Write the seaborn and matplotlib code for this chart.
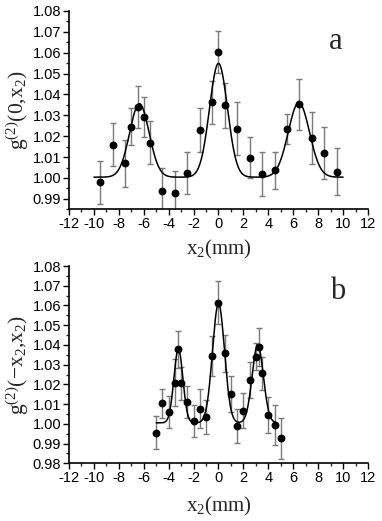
import numpy as np
import pandas as pd
import matplotlib
matplotlib.use("Agg")
import matplotlib.pyplot as plt
import seaborn as sns
from matplotlib.ticker import MultipleLocator, FormatStrFormatter

# ---- panel a data ----
xa = [-9.5, -8.5, -7.5, -7.0, -6.5, -6.0, -5.5, -4.5, -3.5, -2.5, -1.5, -0.5,
      0.0, 0.5, 1.5, 2.5, 3.5, 4.5, 5.5, 6.5, 7.5, 8.5, 9.5]
ya = [0.998, 1.016, 1.007, 1.0245, 1.034, 1.029, 1.017, 0.9936, 0.9928, 1.0024,
      1.0229, 1.0362, 1.0604, 1.0348, 1.0237, 1.0097, 1.0021, 1.0036, 1.0234,
      1.0353, 1.0192, 1.0119, 1.0031]
ea = [0.0103, 0.0104, 0.0114, 0.0089, 0.0099, 0.0096, 0.0102, 0.011, 0.0105,
      0.0102, 0.0105, 0.0102, 0.0102, 0.0107, 0.0126, 0.0098, 0.0105, 0.0089,
      0.0072, 0.0122, 0.0123, 0.0125, 0.0114]
# fitted Gaussian curve (panel a): baseline, centers, amplitudes, widths
fit_a_base = 1.0004
fit_a_centers = [-6.35, 0.0, 6.45]
fit_a_amps = [0.0352, 0.0545, 0.0357]
fit_a_sigmas = [0.78, 0.72, 0.85]
fit_a_range = [-10.0, 10.0]

# ---- panel b data ----
xb = [-5.0, -4.5, -4.0, -3.5, -3.25, -3.0, -2.5, -2.0, -1.5, -1.0, -0.5, 0.0,
      0.5, 1.0, 1.5, 2.0, 2.5, 3.0, 3.25, 3.5, 4.0, 4.5, 5.0]
yb = [0.9954, 1.0104, 1.0062, 1.0209, 1.0378, 1.0205, 1.0111, 1.0015, 1.0077,
      1.0035, 1.0344, 1.0614, 1.0357, 1.0151, 0.999, 1.0067, 1.0222, 1.034,
      1.0391, 1.0256, 1.0043, 0.9994, 0.9928]
eb = [0.0084, 0.0073, 0.0081, 0.012, 0.0094, 0.0085, 0.008, 0.0083, 0.0099,
      0.0084, 0.0103, 0.011, 0.0095, 0.0089, 0.0087, 0.0089, 0.0093, 0.0069,
      0.0097, 0.0084, 0.0091, 0.010, 0.0104]
fit_b_base = 1.0005
fit_b_centers = [-3.22, 0.0, 3.15]
fit_b_amps = [0.0375, 0.0605, 0.0395]
fit_b_sigmas = [0.36, 0.48, 0.45]
fit_b_range = [-5.0, 4.6]

xticks = list(range(-12, 13, 2))

sns.set_style("ticks")
plt.rcParams["font.family"] = ["Liberation Sans", "DejaVu Sans"]
plt.rcParams["axes.unicode_minus"] = False
plt.rcParams["mathtext.fontset"] = "custom"
plt.rcParams["mathtext.rm"] = "Liberation Serif"
plt.rcParams["mathtext.it"] = "Liberation Serif:italic"

fig = plt.figure(figsize=(3.82, 5.21), dpi=100)
W, H = 382.0, 521.0
axA = fig.add_axes([69 / W, (H - 209.3) / H, 299 / W, 198.3 / H])
axB = fig.add_axes([69 / W, (H - 463.3) / H, 299 / W, 197.3 / H])


def fit_curve(base, centers, amps, sigmas, rng):
    xs = np.linspace(rng[0], rng[1], 400)
    ys = np.full_like(xs, base)
    for c, a, s in zip(centers, amps, sigmas):
        ys = ys + a * np.exp(-(xs - c) ** 2 / (2 * s ** 2))
    return pd.DataFrame({"x": xs, "y": ys})


def draw(ax, x, y, e, fit, ylim, yticks, ylabel, letter, lpos, xpad):
    df = pd.DataFrame({"x": x, "y": y, "e": e})
    eb_ = ax.errorbar(df["x"], df["y"], yerr=df["e"], fmt="none",
                      ecolor="#7a7a7a", elinewidth=1.0, capsize=2.0,
                      capthick=1.0, zorder=2)
    for cl in eb_[1]:
        cl.set_color("#333333")
    sns.lineplot(data=fit, x="x", y="y", ax=ax, color="black", lw=1.1,
                 zorder=3, sort=False)
    sns.scatterplot(data=df, x="x", y="y", ax=ax, color="black", s=32,
                    edgecolor="black", linewidth=0, zorder=4)
    ax.set_xlim(-12, 12)
    ax.set_ylim(*ylim)
    ax.set_xticks(xticks)
    ax.xaxis.set_minor_locator(MultipleLocator(1))
    ax.set_yticks(yticks)
    ax.yaxis.set_minor_locator(MultipleLocator(0.005))
    ax.yaxis.set_major_formatter(FormatStrFormatter("%.2f"))
    ax.tick_params(axis="both", which="major", labelsize=10.5, length=4,
                   width=1, direction="out", pad=1.5, colors="black")
    ax.tick_params(axis="both", which="minor", length=2.5, width=1,
                   direction="out")
    for s in ["top", "right"]:
        ax.spines[s].set_visible(False)
    for s in ["left", "bottom"]:
        ax.spines[s].set_linewidth(1.2)
        ax.spines[s].set_color("black")
    ax.set_xlabel(r"$\mathrm{x_2(mm)}$", fontsize=15, labelpad=xpad)
    ax.set_ylabel(ylabel, fontsize=15.5, labelpad=1)
    ax.text(lpos[0], lpos[1], letter, transform=ax.transAxes, fontsize=22,
            family="Liberation Serif", ha="center", va="center")


draw(axA, xa, ya, ea,
     fit_curve(fit_a_base, fit_a_centers, fit_a_amps, fit_a_sigmas, fit_a_range),
     (0.985, 1.08), [0.99 + 0.01 * i for i in range(10)],
     r"$\mathrm{g^{(2)}(0{,}x_2)}$", "a", (0.893, 0.844), 5)
draw(axB, xb, yb, eb,
     fit_curve(fit_b_base, fit_b_centers, fit_b_amps, fit_b_sigmas, fit_b_range),
     (0.98, 1.08), [0.98 + 0.01 * i for i in range(11)],
     r"$\mathrm{g^{(2)}(-x_2{,}x_2)}$", "b", (0.9, 0.873), 7)

fig.savefig("out.png", dpi=100)
